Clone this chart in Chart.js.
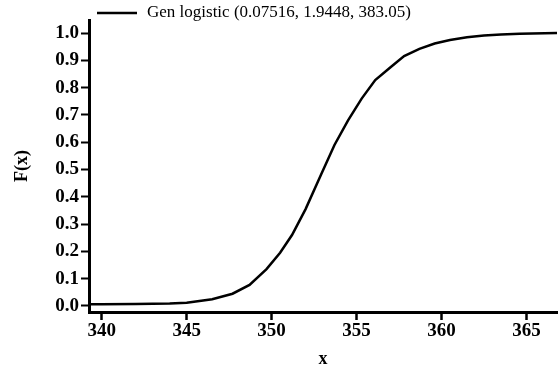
<!DOCTYPE html>
<html lang="en">
<head>
    <meta charset="UTF-8">
    <title>Gen logistic CDF</title>
    <script src="https://cdn.jsdelivr.net/npm/chart.js"></script>
    <style>
        body {
            margin: 0;
            background: white;
        }
        .wrap {
            width: 558px;
            height: 371px;
        }
    </style>
</head>
<body>
    <div class="wrap">
        <canvas id="cdf"></canvas>
    </div>

    <script>
        // values
        const xValues = [339.25, 340, 342, 344, 345, 346.5, 347.7, 348.7, 349.7, 350.5, 351.2, 352, 352.9, 353.7,
                         354.5, 355.3, 356.1, 357, 357.8, 358.7, 359.6, 360.5, 361.5, 362.5, 363.5, 364.6, 366.8];
        const fValues = [0.006, 0.006, 0.007, 0.009, 0.012, 0.025, 0.045, 0.077, 0.135, 0.195, 0.26, 0.355, 0.48, 0.59,
                         0.68, 0.76, 0.828, 0.875, 0.916, 0.942, 0.962, 0.975, 0.985, 0.991, 0.995, 0.998, 1.0];
        const xTicks = [340, 345, 350, 355, 360, 365];
        const yTicks = [0.0, 0.1, 0.2, 0.3, 0.4, 0.5, 0.6, 0.7, 0.8, 0.9, 1.0];
        const seriesLabel = 'Gen logistic (0.07516, 1.9448, 383.05)';

        const serif = '"Liberation Serif", "Times New Roman", serif';

        // legend drawn by hand (line sample + text above the plot)
        const legendPlugin = {
            id: 'topLegend',
            afterDraw(chart) {
                const ctx = chart.ctx;
                ctx.save();
                ctx.strokeStyle = '#000';
                ctx.lineWidth = 2.5;
                ctx.beginPath();
                ctx.moveTo(97, 13);
                ctx.lineTo(137, 13);
                ctx.stroke();
                ctx.fillStyle = '#000';
                ctx.font = '17px ' + serif;
                ctx.textBaseline = 'middle';
                ctx.fillText(seriesLabel, 147, 13);
                ctx.restore();
            }
        };

        const ctx = document.getElementById('cdf').getContext('2d');
        new Chart(ctx, {
            type: 'line',
            data: {
                datasets: [{
                    label: seriesLabel,
                    data: xValues.map((x, i) => ({ x: x, y: fValues[i] })),
                    borderColor: '#000',
                    backgroundColor: '#000',
                    borderWidth: 2.5,
                    pointRadius: 0,
                    tension: 0,
                    fill: false
                }]
            },
            options: {
                responsive: true,
                maintainAspectRatio: false,
                animation: false,
                layout: { padding: { top: 20, right: 1, left: 0, bottom: 0 } },
                plugins: {
                    legend: { display: false },
                    tooltip: { enabled: false }
                },
                scales: {
                    x: {
                        type: 'linear',
                        min: 339.25,
                        max: 366.8,
                        afterFit: s => { s.height = 59; },
                        afterBuildTicks: s => { s.ticks = xTicks.map(v => ({ value: v })); },
                        border: { display: true, color: '#000', width: 3 },
                        grid: { drawOnChartArea: false, drawTicks: true, tickLength: 8, tickWidth: 2.5, tickColor: '#000' },
                        ticks: {
                            color: '#000',
                            padding: 0,
                            maxRotation: 0,
                            font: { family: serif, size: 19, weight: 'bold' }
                        },
                        title: {
                            display: true,
                            text: 'x',
                            color: '#000',
                            padding: { top: 0, bottom: 1 },
                            font: { family: serif, size: 18, weight: 'bold' }
                        }
                    },
                    y: {
                        min: -0.022,
                        max: 1.048,
                        afterFit: s => { s.width = 89; },
                        afterBuildTicks: s => { s.ticks = yTicks.map(v => ({ value: v })); },
                        border: { display: true, color: '#000', width: 3 },
                        grid: { drawOnChartArea: false, drawTicks: true, tickLength: 8, tickWidth: 2, tickColor: '#000' },
                        ticks: {
                            color: '#000',
                            padding: 2,
                            callback: v => v.toFixed(1),
                            font: { family: serif, size: 19, weight: 'bold' }
                        },
                        title: {
                            display: true,
                            text: 'F(x)',
                            color: '#000',
                            padding: { top: 12, bottom: 0 },
                            font: { family: serif, size: 18, weight: 'bold' }
                        }
                    }
                }
            },
            plugins: [legendPlugin]
        });
    </script>
</body>
</html>
